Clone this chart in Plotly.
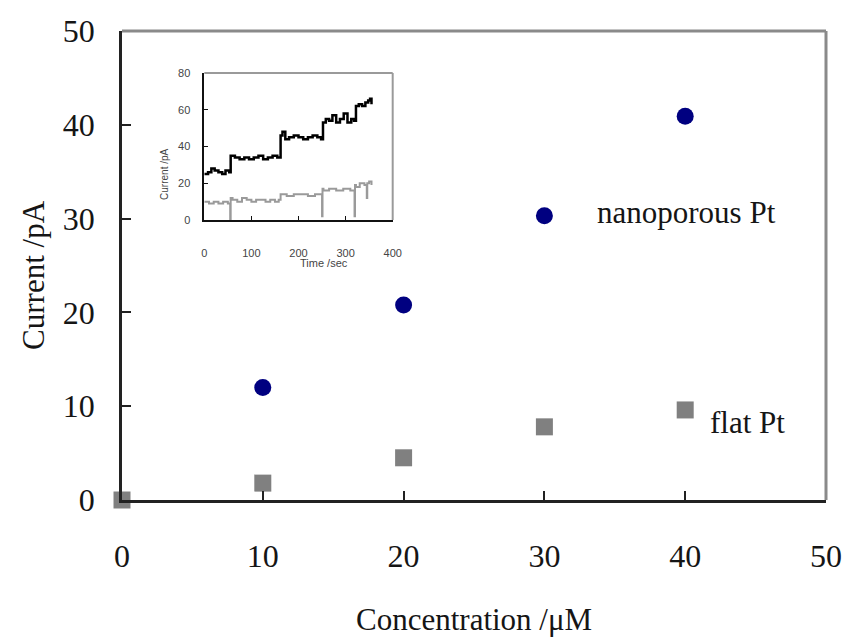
import plotly.graph_objects as go

# Main chart data
conc_nano = [10, 20, 30, 40]
cur_nano = [12.0, 20.8, 30.3, 40.9]
conc_flat = [0, 10, 20, 30, 40]
cur_flat = [0.0, 1.8, 4.5, 7.8, 9.6]
main_ticks = [0, 10, 20, 30, 40, 50]

# Inset data (current vs time)
black_t = [0, 8, 15, 22, 30, 38, 45, 53, 56, 65, 75, 85, 95, 105, 115, 125, 135, 145, 155,
           162, 166, 172, 180, 190, 200, 210, 220, 230, 240, 248,
           252, 258, 265, 272, 280, 288, 296, 304, 312, 318,
           322, 328, 335, 342, 348, 352, 355]
black_i = [25, 26, 28, 27, 26, 25, 27, 26, 35, 34, 33, 34, 33, 34, 35, 33, 34, 35, 34,
           46, 48, 44, 45, 46, 45, 44, 45, 46, 45, 44,
           53, 55, 54, 57, 53, 55, 58, 53, 55, 54,
           62, 63, 62, 64, 65, 66, 63]
gray_t = [0, 10, 20, 30, 40, 50, 54, 55, 56,
          60, 70, 80, 90, 100, 110, 120, 130, 140, 150, 158,
          162, 175, 190, 205, 220, 235, 248,
          250, 251, 253, 265, 280, 295, 310, 318,
          319, 320, 322, 330, 340, 344, 345, 346, 350, 355]
gray_i = [10, 9, 10, 9, 10, 9, 9, 0, 12,
          11, 10, 12, 11, 10, 11, 11, 10, 11, 10, 11,
          14, 13, 14, 14, 13, 14, 14,
          2, 17, 16, 17, 16, 17, 16, 16,
          2, 19, 18, 20, 19, 19, 12, 20, 21, 19]
inset_xticks = [0, 100, 200, 300, 400]
inset_yticks = [0, 20, 40, 60, 80]

serif = "Liberation Serif"
sans = "Liberation Sans"
ink = "#151515"

fig = go.Figure()

fig.add_trace(go.Scatter(x=conc_flat, y=cur_flat, mode="markers",
                         marker=dict(symbol="square", size=17, color="#808080"),
                         cliponaxis=False, showlegend=False))
fig.add_trace(go.Scatter(x=conc_nano, y=cur_nano, mode="markers",
                         marker=dict(symbol="circle", size=17, color="#000080"),
                         cliponaxis=False, showlegend=False))

fig.add_trace(go.Scatter(x=gray_t, y=gray_i, mode="lines", line_shape="hv",
                         line=dict(color="#9a9a9a", width=2),
                         xaxis="x2", yaxis="y2", showlegend=False))
fig.add_trace(go.Scatter(x=black_t, y=black_i, mode="lines", line_shape="hv",
                         line=dict(color="#000000", width=2.5),
                         xaxis="x2", yaxis="y2", showlegend=False))

x2dom = [(205 - 122) / 710, (395 - 122) / 710]
y2dom = [(500 - 220) / 469, (500 - 73) / 469]

fig.update_layout(
    width=854, height=644,
    margin=dict(l=122, r=22, t=31, b=144),
    paper_bgcolor="white", plot_bgcolor="white",
    xaxis=dict(range=[0, 50], tickvals=main_ticks, showgrid=False, zeroline=False,
               showline=True, linecolor="#222", linewidth=2.5,
               ticks="inside", ticklen=9, tickwidth=1.5, tickcolor="#222",
               ticklabelstandoff=26,
               tickfont=dict(family=serif, size=32, color=ink)),
    yaxis=dict(range=[0, 50], tickvals=main_ticks, showgrid=False, zeroline=False,
               showline=True, linecolor="#222", linewidth=2.5,
               ticks="inside", ticklen=9, tickwidth=1.5, tickcolor="#222",
               ticklabelstandoff=18,
               tickfont=dict(family=serif, size=32, color=ink)),
    xaxis2=dict(domain=x2dom, anchor="y2", range=[0, 400], tickvals=inset_xticks,
                showgrid=False, zeroline=False, showline=True, linecolor="#111", linewidth=1.5,
                ticks="inside", ticklen=4, tickcolor="#111", ticklabelstandoff=22,
                tickfont=dict(family=sans, size=11, color="#444")),
    yaxis2=dict(domain=y2dom, anchor="x2", range=[0, 80], tickvals=inset_yticks,
                showgrid=False, zeroline=False, showline=True, linecolor="#111", linewidth=1.5,
                ticks="inside", ticklen=4, tickcolor="#111", ticklabelstandoff=10,
                tickfont=dict(family=sans, size=11, color="#444")),
    shapes=[
        dict(type="line", xref="paper", yref="paper", x0=0, x1=1, y0=1, y1=1,
             line=dict(color="#8a8a8a", width=3)),
        dict(type="line", xref="paper", yref="paper", x0=1, x1=1, y0=0, y1=1,
             line=dict(color="#8a8a8a", width=3)),
        dict(type="line", xref="paper", yref="paper", x0=x2dom[0], x1=x2dom[1], y0=y2dom[1], y1=y2dom[1],
             line=dict(color="#9a9a9a", width=2)),
        dict(type="line", xref="paper", yref="paper", x0=x2dom[1], x1=x2dom[1], y0=y2dom[0], y1=y2dom[1],
             line=dict(color="#9a9a9a", width=2)),
    ],
    annotations=[
        dict(text="nanoporous Pt", x=40.1, y=30.6, xref="x", yref="y", showarrow=False,
             font=dict(family=serif, size=31, color=ink)),
        dict(text="flat Pt", x=44.4, y=8.3, xref="x", yref="y", showarrow=False,
             font=dict(family=serif, size=31, color=ink)),
        dict(text="Concentration /μM", x=0.5, y=-0.255, xref="paper", yref="paper",
             showarrow=False, yanchor="middle",
             font=dict(family=serif, size=31, color=ink)),
        dict(text="Current /pA", x=-0.125, y=0.48, xref="paper", yref="paper", textangle=-90,
             showarrow=False, xanchor="center",
             font=dict(family=serif, size=31, color=ink)),
        dict(text="Current /pA", x=x2dom[0] - 0.068, y=(y2dom[0] + y2dom[1]) / 2,
             xref="paper", yref="paper", textangle=-90, showarrow=False,
             font=dict(family=sans, size=10, color="#444")),
        dict(text="Time /sec", x=(300 - 122) / 710, y=(500 - 263) / 469,
             xref="paper", yref="paper", showarrow=False,
             font=dict(family=sans, size=11, color="#444")),
    ],
)

fig.write_html("out.html")
